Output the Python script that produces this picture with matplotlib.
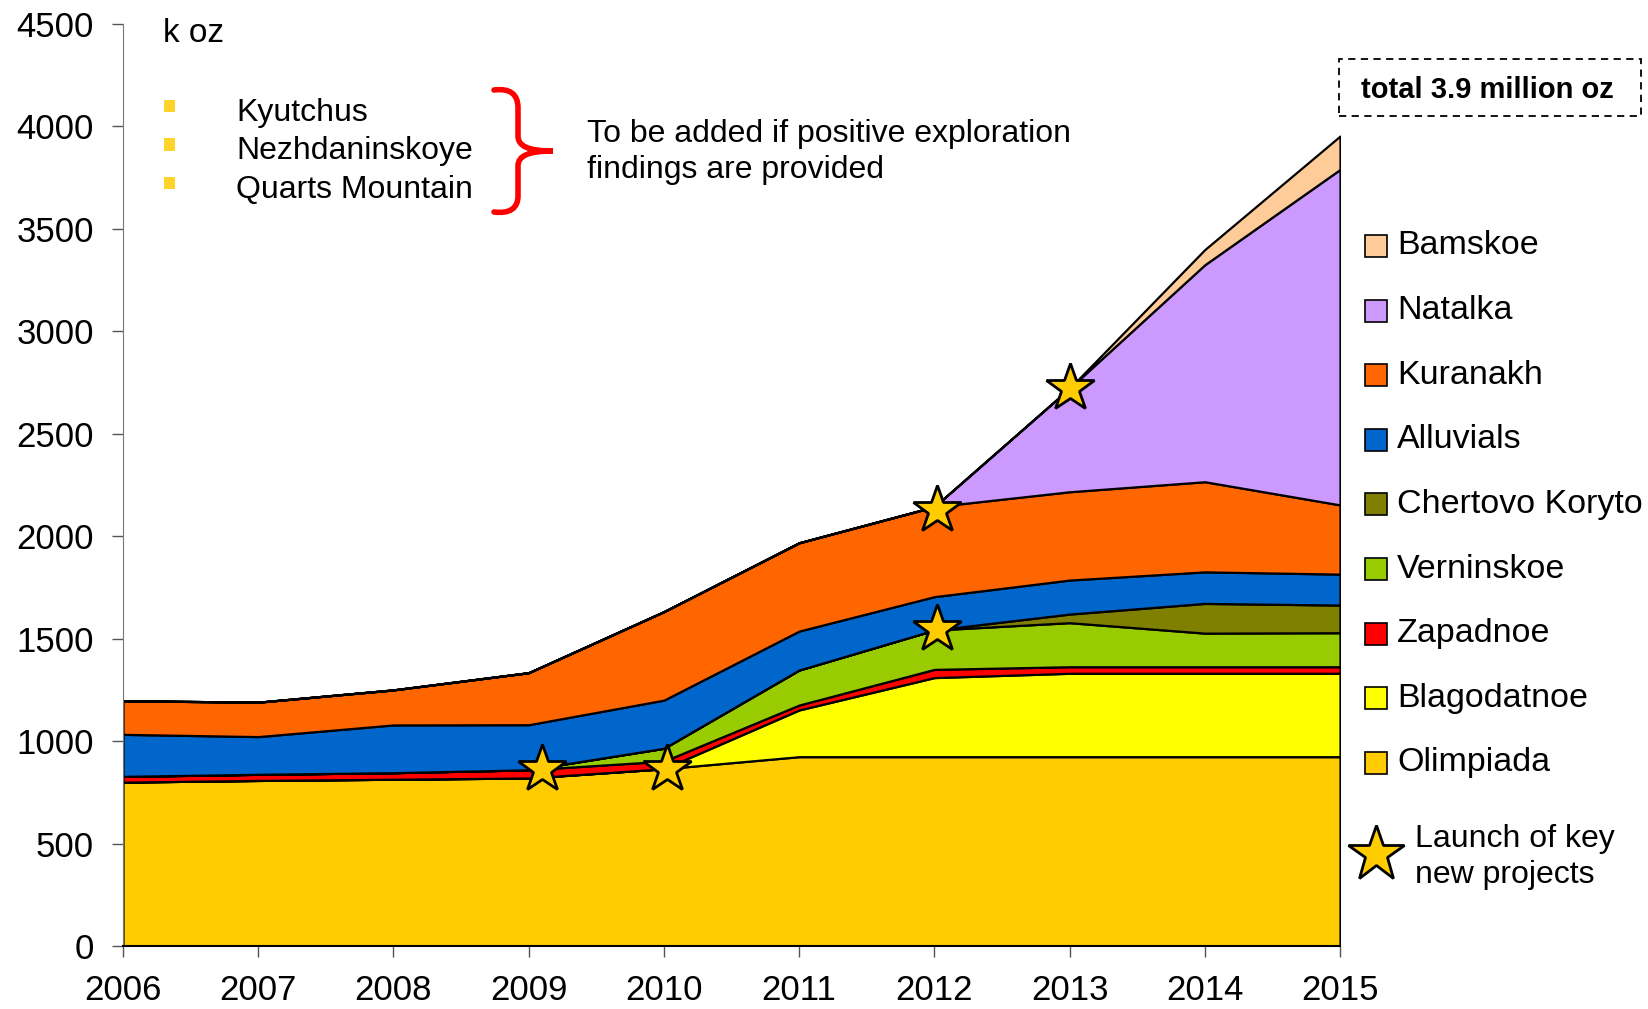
import matplotlib
matplotlib.use("Agg")
import matplotlib.pyplot as plt
from matplotlib.patches import Rectangle, PathPatch
from matplotlib.path import Path

plt.rcParams['font.family'] = ['Liberation Sans', 'DejaVu Sans']

# --- data (k oz) ---
years = [2006, 2007, 2008, 2009, 2010, 2011, 2012, 2013, 2014, 2015]
olimpiada = [800, 808, 814, 820, 865, 924, 924, 924, 924, 924]
blagodatnoe = [0, 0, 0, 0, 0, 228, 386, 407, 407, 407]
zapadnoe = [28, 30, 32, 40, 37, 24, 40, 32, 32, 32]
verninskoe = [0, 0, 0, 0, 63, 171, 192, 215, 164, 166]
chertovo = [0, 0, 0, 0, 0, 0, 0, 42, 145, 135]
alluvials = [205, 184, 233, 220, 235, 190, 163, 166, 154, 151]
kuranakh = [164, 168, 171, 254, 432, 431, 439, 431, 440, 338]
natalka = [0, 0, 0, 0, 0, 0, 0, 505, 1059, 1637]
bamskoe = [0, 0, 0, 0, 0, 0, 0, 0, 74, 163]

series_names = ["Olimpiada", "Blagodatnoe", "Zapadnoe", "Verninskoe",
                "Chertovo Koryto", "Alluvials", "Kuranakh", "Natalka", "Bamskoe"]
series_colors = ["#FFCC00", "#FFFF00", "#FF0000", "#99CC00",
                 "#808000", "#0066CC", "#FF6600", "#CC99FF", "#FFCC99"]

# launch of key new projects (stars)
star_x = [2009.1, 2010.02, 2012.02, 2012.02, 2013.0]
star_y = [865, 865, 1545, 2130, 2725]

pending = ["Kyutchus", "Nezhdaninskoye", "Quarts Mountain"]

W, H = 1649, 1009
fig = plt.figure(figsize=(W / 100, H / 100), dpi=100)
ax = fig.add_axes([123 / W, 1 - 946 / H, (1340 - 123) / W, (946 - 24) / H])


def fx(px):
    return px / W


def fy(py):
    return 1 - py / H


ax.stackplot(years, olimpiada, blagodatnoe, zapadnoe, verninskoe, chertovo,
             alluvials, kuranakh, natalka, bamskoe,
             colors=series_colors, edgecolor="black", linewidth=1.6)
ax.plot(star_x, star_y, linestyle="none", marker="*", markersize=36,
        markerfacecolor="#FFCC00", markeredgecolor="black",
        markeredgewidth=2, zorder=5, clip_on=False)

ax.set_xlim(2006, 2015)
ax.set_ylim(0, 4500)
ax.set_xticks(years)
ax.set_yticks(range(0, 4501, 500))
ax.tick_params(axis="both", labelsize=25, length=8, width=1, direction="out",
               colors="#555555", labelcolor="black")
ax.tick_params(axis="y", pad=13)
ax.tick_params(axis="x", pad=12)
for side in ("top", "right"):
    ax.spines[side].set_visible(False)
ax.spines["left"].set_color("#777777")
ax.spines["bottom"].set_color("black")
ax.spines["bottom"].set_linewidth(1.5)

# unit label
fig.text(fx(163), fy(33), "k oz", fontsize=24, va="center", ha="left")

# pending projects list with bullets
for i, name in enumerate(pending):
    yb = 107 + i * 38.5
    fig.add_artist(Rectangle((fx(164), fy(yb + 5)), 11 / W, 12 / H,
                             transform=fig.transFigure, facecolor="#FFD42A",
                             edgecolor="none"))
    fig.text(fx(236), fy(yb + 6), name, fontsize=23, va="center", ha="left")

# red brace
brace = [(494, 90), (510, 88), (518, 94), (518, 108), (518, 136),
         (518, 146), (528, 151), (553, 151),
         (528, 151), (518, 156), (518, 166), (518, 196),
         (518, 208), (510, 214), (494, 212)]
codes = [Path.MOVETO, Path.CURVE4, Path.CURVE4, Path.CURVE4, Path.LINETO,
         Path.CURVE4, Path.CURVE4, Path.CURVE4,
         Path.CURVE4, Path.CURVE4, Path.CURVE4, Path.LINETO,
         Path.CURVE4, Path.CURVE4, Path.CURVE4]
brace_path = Path([(fx(x), fy(y)) for x, y in brace], codes)
fig.add_artist(PathPatch(brace_path, transform=fig.transFigure, fill=False,
                         edgecolor="#FF0000", linewidth=4,
                         capstyle="round"))
fig.text(fx(587), fy(152), "To be added if positive exploration\nfindings are provided",
         fontsize=23, va="center", ha="left", linespacing=1.25)

# total box
fig.add_artist(Rectangle((fx(1339), fy(116)), (1641 - 1339) / W, (116 - 59) / H,
                         transform=fig.transFigure, facecolor="white",
                         edgecolor="black", linestyle=(0, (4, 3)), linewidth=1.3))
fig.text(fx(1487), fy(90), "total 3.9 million oz", fontsize=21, fontweight="bold",
         va="center", ha="center")

# legend (top to bottom)
for i, (name, color) in enumerate(zip(series_names[::-1], series_colors[::-1])):
    yc = 246 + i * 64.6
    fig.add_artist(Rectangle((fx(1365), fy(yc + 11)), 22 / W, 22 / H,
                             transform=fig.transFigure, facecolor=color,
                             edgecolor="black", linewidth=1.2))
    fig.text(fx(1397), fy(yc), name, fontsize=24.5, va="center", ha="left")

fig.lines.append(plt.Line2D([fx(1376)], [fy(854)], transform=fig.transFigure,
                            marker="*", markersize=42, linestyle="none",
                            markerfacecolor="#FFCC00", markeredgecolor="black",
                            markeredgewidth=2))
fig.text(fx(1415), fy(857), "Launch of key\nnew projects", fontsize=23,
         va="center", ha="left", linespacing=1.25)

fig.savefig("out.png", dpi=100)
